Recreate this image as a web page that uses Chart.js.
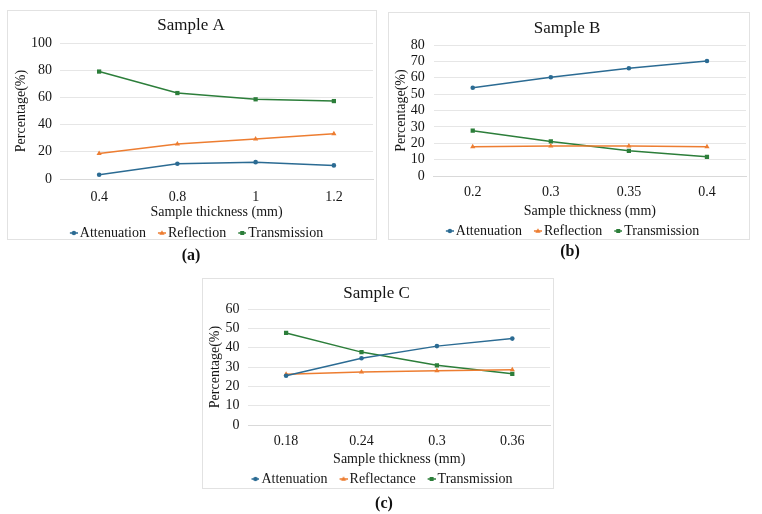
<!DOCTYPE html>
<html>
<head>
<meta charset="utf-8">
<script src="https://cdn.jsdelivr.net/npm/chart.js@4.4.1/dist/chart.umd.min.js"></script>
<style>
  body { margin: 0; background: #fff; width: 762px; height: 514px; position: relative; overflow: hidden;
         font-family: "Liberation Serif", "Times New Roman", serif; }
  .box { position: absolute; border: 1px solid #e2e2e2; box-sizing: border-box; }
  canvas { position: absolute; }
  .cap { position: absolute; font-weight: bold; font-size: 16px; color: #111; transform: translate(-50%, -50%); }
</style>
</head>
<body>
<div class="box" style="left:7px;top:10px;width:370px;height:230px"></div>
<div class="box" style="left:388px;top:12px;width:362px;height:228px"></div>
<div class="box" style="left:202px;top:278px;width:352px;height:211px"></div>

<canvas id="chartA" width="370" height="240" style="left:7px;top:10px"></canvas>
<canvas id="chartB" width="362" height="238" style="left:388px;top:12px"></canvas>
<canvas id="chartC" width="352" height="221" style="left:202px;top:278px"></canvas>

<div class="cap" style="left:191px;top:255px">(a)</div>
<div class="cap" style="left:570px;top:251px">(b)</div>
<div class="cap" style="left:384px;top:503px">(c)</div>

<script>
// Sample A
const thicknessA = ['0.4', '0.8', '1', '1.2'];
const attenuationA = [3.1, 11.2, 12.4, 10];
const reflectionA = [18.8, 25.8, 29.5, 33.2];
const transmissionA = [79, 63.2, 58.6, 57.3];

// Sample B
const thicknessB = ['0.2', '0.3', '0.35', '0.4'];
const attenuationB = [53.9, 60.3, 65.8, 70.2];
const reflectionB = [17.8, 18.3, 18.3, 17.8];
const transmissionB = [27.7, 21.1, 15.4, 11.7];

// Sample C
const thicknessC = ['0.18', '0.24', '0.3', '0.36'];
const attenuationC = [25.5, 34.5, 40.8, 44.7];
const reflectanceC = [26.2, 27.4, 28.1, 28.6];
const transmissionC = [47.6, 37.7, 30.9, 26.5];

const BLUE = '#2b6b93';
const ORANGE = '#ed7d31';
const GREEN = '#2c7e3a';
const FONT = '"Liberation Serif", "Times New Roman", serif';
const TEXT = '#151515';

Chart.defaults.font.family = FONT;
Chart.defaults.color = TEXT;

// little "line + marker" glyph for the legend, drawn at the right side of a 24px image
function legendGlyph(color, style) {
  const c = document.createElement('canvas');
  c.width = 24; c.height = 10;
  const g = c.getContext('2d');
  g.strokeStyle = color; g.fillStyle = color; g.lineWidth = 1.5;
  g.beginPath(); g.moveTo(16, 5); g.lineTo(24, 5); g.stroke();
  g.beginPath();
  if (style === 'circle') g.arc(20, 5, 2.2, 0, Math.PI * 2);
  else if (style === 'triangle') { g.moveTo(20, 2.3); g.lineTo(22.6, 6.8); g.lineTo(17.4, 6.8); g.closePath(); }
  else g.rect(18, 3, 4, 4);
  g.fill();
  return c;
}

function series(label, data, color, style) {
  return {
    label, data,
    borderColor: color, backgroundColor: color,
    borderWidth: 1.5, tension: 0,
    pointStyle: style,
    pointRadius: style === 'circle' ? 2.3 : 3,
    pointBorderWidth: 0,
    glyph: legendGlyph(color, style)
  };
}

function makeChart(id, title, labels, datasets, yMax, yStep, lay) {
  new Chart(document.getElementById(id), {
    type: 'line',
    data: { labels, datasets },
    options: {
      responsive: false,
      animation: false,
      devicePixelRatio: 1,
      layout: { padding: { left: 0, right: lay.right, top: 0, bottom: lay.bottom } },
      plugins: {
        tooltip: { enabled: false },
        title: {
          display: true, text: title, color: TEXT,
          font: { size: 17, weight: 'normal' },
          padding: { top: lay.titleTop, bottom: lay.titleBottom }
        },
        legend: {
          position: 'bottom',
          labels: {
            usePointStyle: true,
            padding: 1,
            color: TEXT,
            font: { size: 14 },
            generateLabels: (chart) => chart.data.datasets.map((ds, i) => ({
              text: ds.label,
              pointStyle: ds.glyph,
              fillStyle: ds.borderColor,
              strokeStyle: 'rgba(0,0,0,0)',
              lineWidth: 0,
              fontColor: TEXT,
              hidden: false,
              datasetIndex: i
            }))
          }
        }
      },
      scales: {
        x: {
          offset: true,
          grid: { display: false, drawTicks: false },
          border: { color: '#d9d9d9' },
          ticks: { padding: lay.xPad, font: { size: 14 }, color: TEXT },
          title: {
            display: true, text: 'Sample thickness (mm)', color: TEXT,
            font: { size: 14 },
            padding: { top: lay.xtTop, bottom: lay.xtBottom }
          }
        },
        y: {
          min: 0, max: yMax,
          grid: { color: '#e6e6e6', drawTicks: false },
          border: { display: false },
          ticks: { stepSize: yStep, count: yMax / yStep + 1, autoSkip: false,
                   padding: lay.tickPad, font: { size: 14 }, color: TEXT },
          title: {
            display: true, text: 'Percentage(%)', color: TEXT,
            font: { size: 14 },
            padding: { top: lay.ytTop, bottom: lay.ytBottom }
          }
        }
      }
    }
  });
}

makeChart('chartA', 'Sample A', thicknessA, [
  series('Attenuation', attenuationA, BLUE, 'circle'),
  series('Reflection', reflectionA, ORANGE, 'triangle'),
  series('Transmission', transmissionA, GREEN, 'rect')
], 100, 20, { right: 2, bottom: 0, titleTop: 5.8, titleBottom: 6.8, xPad: 10, xtTop: -12, xtBottom: 4.4, tickPad: 8, ytTop: 5.6, ytBottom: -6.4 });

makeChart('chartB', 'Sample B', thicknessB, [
  series('Attenuation', attenuationB, BLUE, 'circle'),
  series('Reflection', reflectionB, ORANGE, 'triangle'),
  series('Transmission', transmissionB, GREEN, 'rect')
], 80, 10, { right: 4, bottom: 2, titleTop: 6.8, titleBottom: 5.8, xPad: 8, xtTop: -6.2, xtBottom: 3.6, tickPad: 9, ytTop: 5.3, ytBottom: -8.4 });

makeChart('chartC', 'Sample C', thicknessC, [
  series('Attenuation', attenuationC, BLUE, 'circle'),
  series('Reflectance', reflectanceC, ORANGE, 'triangle'),
  series('Transmission', transmissionC, GREEN, 'rect')
], 60, 10, { right: 3, bottom: 3, titleTop: 5.3, titleBottom: 5.3, xPad: 8, xtTop: -7.2, xtBottom: 3.6, tickPad: 9, ytTop: 4.6, ytBottom: -7 });
</script>
</body>
</html>
